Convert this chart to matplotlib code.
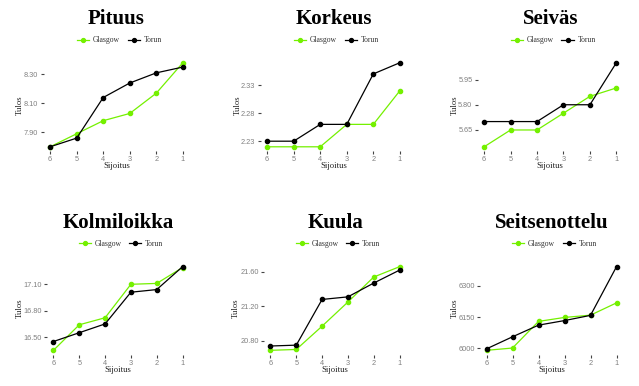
import matplotlib
matplotlib.use("Agg")
import matplotlib.pyplot as plt
from matplotlib.lines import Line2D

places = ["6", "5", "4", "3", "2", "1"]
titles = ["Pituus", "Korkeus", "Seiväs", "Kolmiloikka", "Kuula", "Seitsenottelu"]

pituus_glasgow = [7.80, 7.89, 7.98, 8.03, 8.17, 8.38]
pituus_torun = [7.80, 7.86, 8.14, 8.24, 8.31, 8.35]
korkeus_glasgow = [2.22, 2.22, 2.22, 2.26, 2.26, 2.32]
korkeus_torun = [2.23, 2.23, 2.26, 2.26, 2.35, 2.37]
seivas_glasgow = [5.55, 5.65, 5.65, 5.75, 5.85, 5.90]
seivas_torun = [5.70, 5.70, 5.70, 5.80, 5.80, 6.05]
kolmi_glasgow = [16.35, 16.64, 16.72, 17.10, 17.11, 17.29]
kolmi_torun = [16.45, 16.55, 16.65, 17.01, 17.04, 17.30]
kuula_glasgow = [20.69, 20.70, 20.97, 21.25, 21.54, 21.66]
kuula_torun = [20.74, 20.75, 21.28, 21.31, 21.47, 21.62]
seitsen_glasgow = [5990, 6001, 6129, 6148, 6159, 6218]
seitsen_torun = [5997, 6055, 6111, 6133, 6158, 6392]

yticks = [
    [7.90, 8.10, 8.30],
    [2.23, 2.28, 2.33],
    [5.65, 5.80, 5.95],
    [16.50, 16.80, 17.10],
    [20.80, 21.20, 21.60],
    [6000, 6150, 6300],
]
ytick_labels = [
    ["7.90", "8.10", "8.30"],
    ["2.23", "2.28", "2.33"],
    ["5.65", "5.80", "5.95"],
    ["16.50", "16.80", "17.10"],
    ["20.80", "21.20", "21.60"],
    ["6000", "6150", "6300"],
]
glasgow = [pituus_glasgow, korkeus_glasgow, seivas_glasgow, kolmi_glasgow, kuula_glasgow, seitsen_glasgow]
torun = [pituus_torun, korkeus_torun, seivas_torun, kolmi_torun, kuula_torun, seitsen_torun]

GREEN = "#74F000"
W, H = 639, 386
fig = plt.figure(figsize=(W / 100, H / 100), dpi=100)

# axes positions in pixels: left, right, top, bottom
boxes = [
    (43.5, 189.5, 58.5, 151),
    (260.5, 406.5, 58.5, 151),
    (477.5, 623, 58.5, 151),
    (47, 189, 262.5, 354.5),
    (264, 406, 262.5, 354.5),
    (480, 623, 262.5, 354.5),
]
title_y = [19, 19, 19, 222.5, 222.5, 222.5]
legend_y = [40.5, 40.5, 40.5, 243.5, 243.5, 243.5]
xlabel_y = [166.5, 166.5, 166.5, 370.5, 370.5, 370.5]
ylabel_x = [19.5, 237.5, 454.5, 19.5, 236, 454.5]

serif = ["Liberation Serif", "DejaVu Serif"]
sans = ["Liberation Sans", "DejaVu Sans"]

for i in range(6):
    l, r, t, b = boxes[i]
    ax = fig.add_axes([l / W, 1 - b / H, (r - l) / W, (b - t) / H])
    x = list(range(len(places)))
    ax.plot(x, glasgow[i], color=GREEN, lw=0.9, marker="o", ms=3, zorder=3)
    ax.plot(x, torun[i], color="black", lw=0.9, marker="o", ms=3, zorder=3)
    ax.margins(0.05)
    ax.set_xticks(x)
    ax.set_xticklabels(places)
    ax.set_yticks(yticks[i])
    ax.set_yticklabels(ytick_labels[i])
    for s in ax.spines.values():
        s.set_visible(False)
    ax.tick_params(axis="both", length=2.2, width=0.8, color="#444444",
                   labelcolor="#808080", labelsize=5.3, pad=1.5)
    for lab in ax.get_xticklabels() + ax.get_yticklabels():
        lab.set_family(sans)
    cx = (l + r) / 2
    fig.text(cx / W, 1 - title_y[i] / H, titles[i], family=serif, weight="bold",
             fontsize=15, ha="center", va="center")
    fig.text(cx / W, 1 - xlabel_y[i] / H, "Sijoitus", family=serif,
             fontsize=6.2, ha="center", va="center", color="#222222")
    fig.text(ylabel_x[i] / W, 1 - ((t + b) / 2) / H, "Tulos", family=serif,
             fontsize=6.2, ha="center", va="center", rotation=90, color="#222222")
    handles = [
        Line2D([], [], color=GREEN, lw=0.9, marker="o", ms=2.8),
        Line2D([], [], color="black", lw=0.9, marker="o", ms=2.8),
    ]
    fig.legend(handles, ["Glasgow", "Torun"], loc="center",
               bbox_to_anchor=((cx + 3) / W, 1 - legend_y[i] / H), ncol=2,
               frameon=False, prop={"family": serif, "size": 5.5},
               handlelength=1.6, handletextpad=0.5, columnspacing=1.0,
               borderpad=0, labelcolor="#333333")

fig.savefig("out.png", dpi=100, facecolor="white")
